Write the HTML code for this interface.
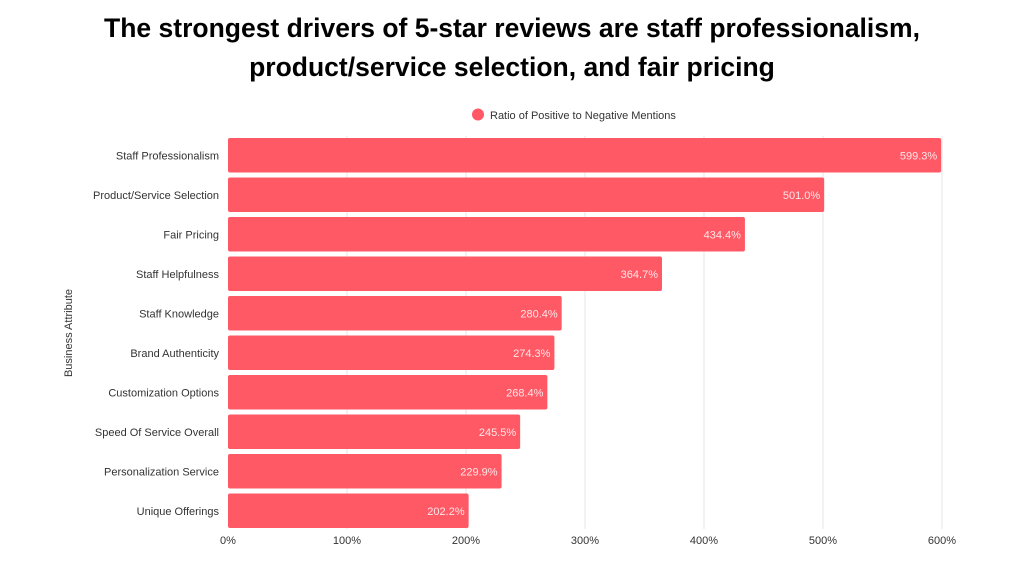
<!DOCTYPE html>
<html><head><meta charset="utf-8"><style>
body{margin:0;background:#fff;font-family:"Liberation Sans",sans-serif;}
</style></head><body>
<svg width="1024" height="576" xmlns="http://www.w3.org/2000/svg" font-family="Liberation Sans, sans-serif">
<rect width="1024" height="576" fill="#fff"/>
<text x="512" y="37" text-anchor="middle" font-size="26.5" font-weight="bold" fill="#000">The strongest drivers of 5-star reviews are staff professionalism,</text>
<text x="512" y="76" text-anchor="middle" font-size="26.5" font-weight="bold" fill="#000">product/service selection, and fair pricing</text>
<circle cx="478" cy="114.5" r="6" fill="#ff5965"/>
<text x="490" y="119" font-size="11" fill="#333">Ratio of Positive to Negative Mentions</text>
<g stroke="#e6e6e6" stroke-width="1">
<line x1="347" y1="136" x2="347" y2="529"/><line x1="466" y1="136" x2="466" y2="529"/>
<line x1="585" y1="136" x2="585" y2="529"/><line x1="704" y1="136" x2="704" y2="529"/>
<line x1="823" y1="136" x2="823" y2="529"/><line x1="942" y1="136" x2="942" y2="529"/>
</g>
<g font-size="11" fill="#333" text-anchor="middle">
<text x="228" y="544">0%</text><text x="347" y="544">100%</text><text x="466" y="544">200%</text>
<text x="585" y="544">300%</text><text x="704" y="544">400%</text><text x="823" y="544">500%</text><text x="942" y="544">600%</text>
</g>
<text transform="translate(72,333) rotate(-90)" text-anchor="middle" font-size="11" fill="#333">Business Attribute</text>
<g id="bars"></g>
</svg>
<script>
var d=[["Staff Professionalism",599.3],["Product/Service Selection",501.0],["Fair Pricing",434.4],["Staff Helpfulness",364.7],["Staff Knowledge",280.4],["Brand Authenticity",274.3],["Customization Options",268.4],["Speed Of Service Overall",245.5],["Personalization Service",229.9],["Unique Offerings",202.2]];
var g=document.getElementById("bars"),s="";
d.forEach(function(r,i){var y=138+i*39.5,w=r[1]*1.19;
s+='<rect x="228" y="'+y+'" width="'+w+'" height="34.5" rx="2" fill="#ff5965"/>';
s+='<text x="'+(228+w-4)+'" y="'+(y+21.5)+'" text-anchor="end" font-size="11" fill="#ffe6e8">'+r[1].toFixed(1)+'%</text>';
s+='<text x="219" y="'+(y+21.5)+'" text-anchor="end" font-size="11" fill="#333">'+r[0]+'</text>';});
g.innerHTML=s;
</script>
</body></html>
